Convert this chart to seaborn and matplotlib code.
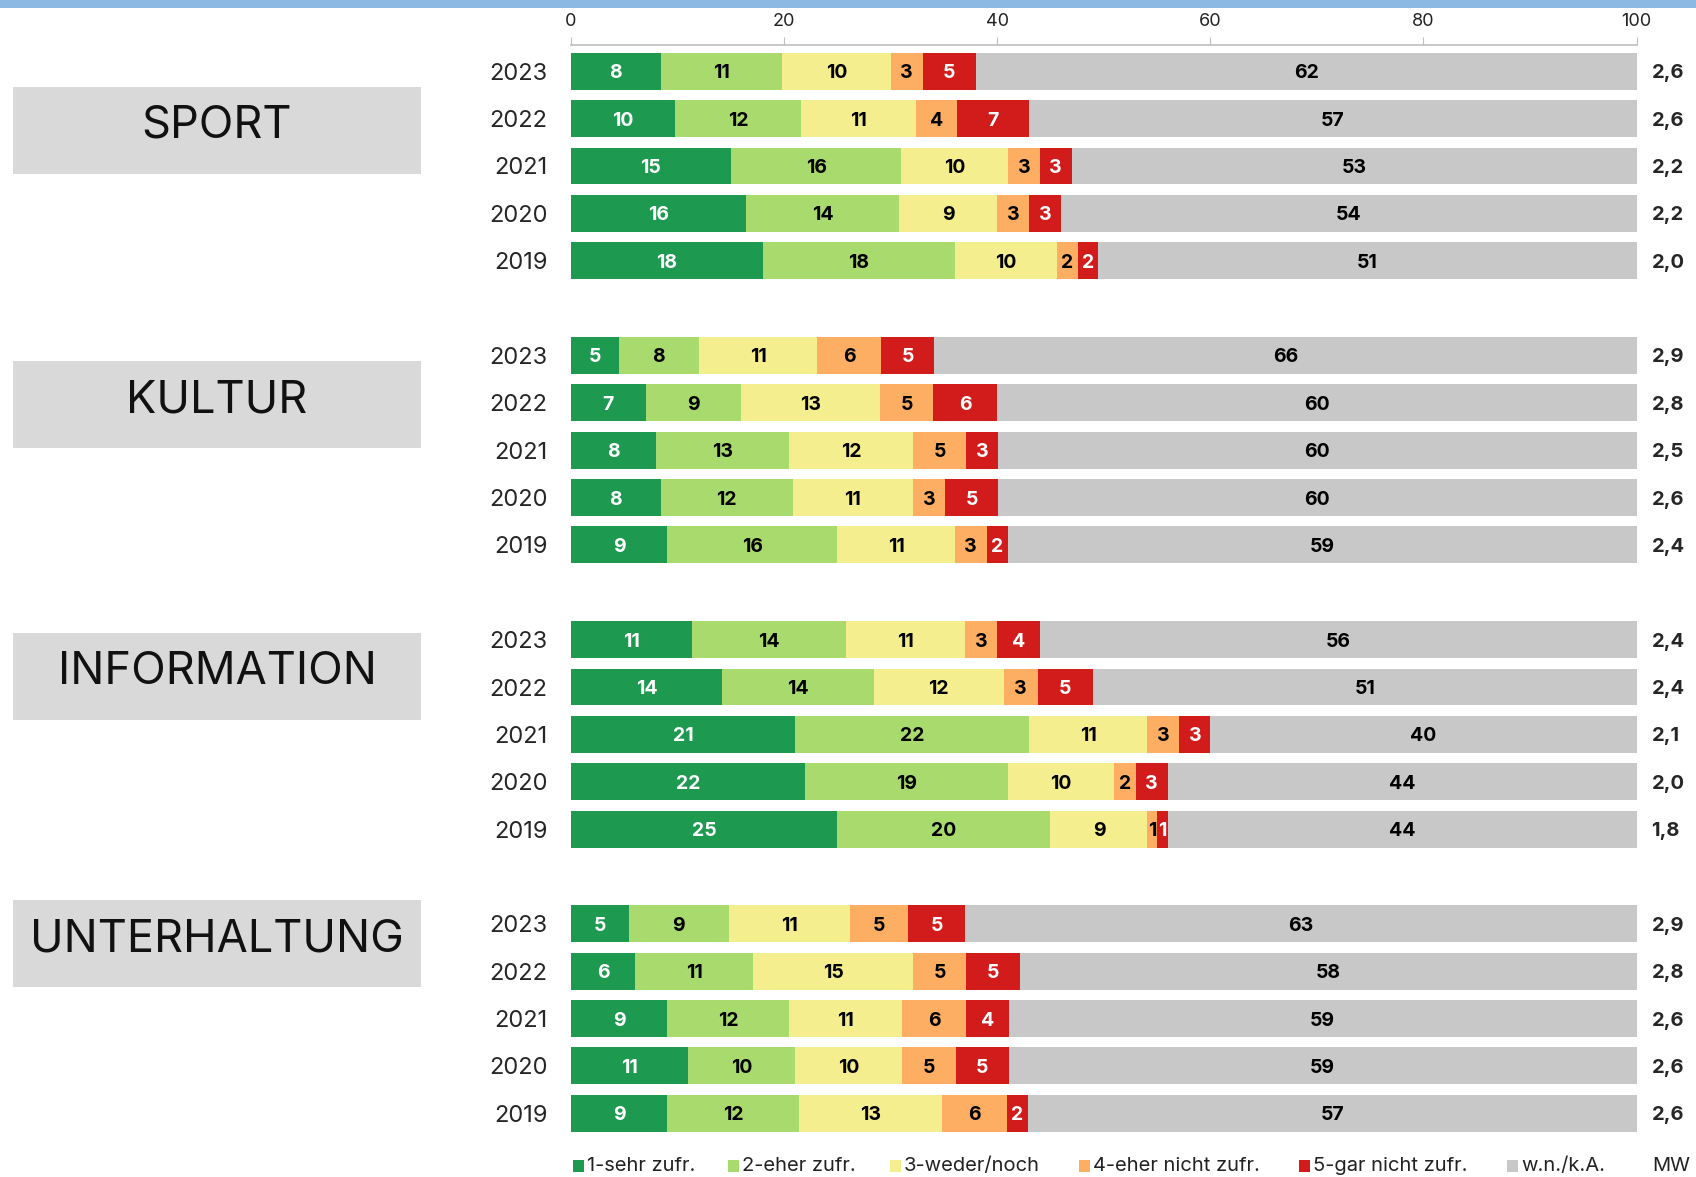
import numpy as np
import pandas as pd
import matplotlib.pyplot as plt
from matplotlib.patches import Rectangle
import seaborn as sns

# --- data ---
GROUPS = ["SPORT", "KULTUR", "INFORMATION", "UNTERHALTUNG"]
YEARS = ["2023", "2022", "2021", "2020", "2019"]
LEVELS = ["1-sehr zufr.", "2-eher zufr.", "3-weder/noch",
          "4-eher nicht zufr.", "5-gar nicht zufr.", "w.n./k.A."]
COLORS = ["#1d9a50", "#a8da6d", "#f5ee8e", "#fdae62", "#d21c1c", "#c8c8c8"]

# rows = years (2023 first), columns = levels 1..5 (shares in %, estimated
# from the bar lengths); w.n./k.A. separately
SPORT = [[8.4, 11.4, 10.2, 3.0, 5.0],
         [9.8, 11.8, 10.8, 3.8, 6.8],
         [15.0, 16.0, 10.0, 3.0, 3.0],
         [16.4, 14.4, 9.2, 3.0, 3.0],
         [18.0, 18.0, 9.6, 2.0, 1.9]]
KULTUR = [[4.5, 7.5, 11.1, 6.0, 5.0],
          [7.0, 9.0, 13.0, 5.0, 6.0],
          [8.0, 12.5, 11.6, 5.0, 3.0],
          [8.4, 12.4, 11.3, 3.0, 5.0],
          [9.0, 16.0, 11.0, 3.0, 2.0]]
INFORMATION = [[11.4, 14.4, 11.2, 3.0, 4.0],
               [14.2, 14.2, 12.2, 3.2, 5.2],
               [21.0, 22.0, 11.1, 3.0, 2.9],
               [22.0, 19.0, 10.0, 2.0, 3.0],
               [25.0, 20.0, 9.1, 0.9, 1.0]]
UNTERHALTUNG = [[5.4, 9.4, 11.4, 5.4, 5.4],
                [6.0, 11.1, 15.0, 5.0, 5.0],
                [9.0, 11.5, 10.6, 6.0, 4.0],
                [11.0, 10.0, 10.1, 5.0, 5.0],
                [9.0, 12.4, 13.4, 6.1, 2.0]]
WN_SPORT = [62, 57, 53, 54, 51]
WN_KULTUR = [66, 60, 60, 60, 59]
WN_INFORMATION = [56, 51, 40, 44, 44]
WN_UNTERHALTUNG = [63, 58, 59, 59, 57]
MW_SPORT = ["2,6", "2,6", "2,2", "2,2", "2,0"]
MW_KULTUR = ["2,9", "2,8", "2,5", "2,6", "2,4"]
MW_INFORMATION = ["2,4", "2,4", "2,1", "2,0", "1,8"]
MW_UNTERHALTUNG = ["2,9", "2,8", "2,6", "2,6", "2,6"]

TABLES = [SPORT, KULTUR, INFORMATION, UNTERHALTUNG]
WNS = [WN_SPORT, WN_KULTUR, WN_INFORMATION, WN_UNTERHALTUNG]
MWS = [MW_SPORT, MW_KULTUR, MW_INFORMATION, MW_UNTERHALTUNG]

W, H = 1696, 1177
FONT = ["Inter", "DejaVu Sans"]

sns.set_style("white")
plt.rcParams["font.family"] = FONT

# long table with start/end of each stacked segment
recs = []
order = []
for gi, (g, tab, wn) in enumerate(zip(GROUPS, TABLES, WNS)):
    if gi > 0:
        order.append(f"gap{gi}")
    for y, vals, w in zip(YEARS, tab, wn):
        key = f"{g} {y}"
        order.append(key)
        end = 0
        for lev, v in zip(LEVELS[:5], vals):
            recs.append({"row": key, "level": lev, "start": end,
                         "label": int(v + 0.5), "end": end + v})
            end += v
        # w.n./k.A. fills the rest of the bar
        recs.append({"row": key, "level": LEVELS[5], "start": end,
                     "label": w, "end": 100})
df = pd.DataFrame(recs)
pos = {k: i for i, k in enumerate(order)}

fig = plt.figure(figsize=(W / 100, H / 100), dpi=100)
ax = fig.add_axes([571 / W, 1 - 1137 / H, (1636.5 - 571) / W, (1137 - 45.4) / H])

# draw from the outermost segment inwards so the stacks overlap correctly
for lev, col in reversed(list(zip(LEVELS, COLORS))):
    sub = df[df["level"] == lev]
    sns.barplot(data=sub, x="end", y="row", order=order, orient="h",
                color=col, saturation=1, width=0.78, errorbar=None,
                linewidth=0, ax=ax)

for _, r in df.iterrows():
    if r["label"] <= 0:
        continue
    cx = (r["start"] + r["end"]) / 2
    tc = "white" if r["level"] in (LEVELS[0], LEVELS[4]) else "black"
    ax.text(cx, pos[r["row"]], str(r["label"]), ha="center",
            va="center_baseline", color=tc, fontsize=14, fontweight="bold")

for g, mw in zip(GROUPS, MWS):
    for y, m in zip(YEARS, mw):
        ax.text(101.4, pos[f"{g} {y}"], m, ha="left", va="center_baseline",
                fontsize=14.5, fontweight="bold", clip_on=False)

ax.set_xlim(0, 100)
ax.set_ylim(len(order) - 0.5, -0.546)
ax.xaxis.tick_top()
ax.set_xticks(range(0, 101, 20))
ax.tick_params(axis="x", length=6, color="#bfbfbf", labelsize=13, pad=5,
               labelcolor="#222222")
ax.set_yticks(range(len(order)))
ax.set_yticklabels([k.split()[-1] if not k.startswith("gap") else ""
                    for k in order], fontsize=17)
for t in ax.get_yticklabels():
    t.set_va("center_baseline")
ax.tick_params(axis="y", length=0, pad=17)
ax.set_xlabel("")
ax.set_ylabel("")
for s in ["left", "right", "bottom"]:
    ax.spines[s].set_visible(False)
ax.spines["top"].set_color("#bfbfbf")
ax.spines["top"].set_linewidth(1.2)

# top blue band
fig.add_artist(Rectangle((0, 1 - 8 / H), 1, 8 / H, transform=fig.transFigure,
                         color="#8cb9e4", lw=0))

# group boxes (pixel layout); the title sits a little above the box centre
box_tops = [86.5, 361, 633, 900]
for g, t in zip(GROUPS, box_tops):
    fig.add_artist(Rectangle((13 / W, 1 - (t + 87) / H), 408 / W, 87 / H,
                             transform=fig.transFigure, color="#d9d9d9", lw=0))
    fig.text(217 / W, 1 - (t + 35) / H, g, ha="center",
             va="center_baseline", fontsize=32.5, color="#111111")

# legend row
leg_x = [573, 728, 890, 1079, 1299, 1507]
ly = 1166
for lab, col, x in zip(LEVELS, COLORS, leg_x):
    fig.add_artist(Rectangle((x / W, 1 - (ly + 6) / H), 11 / W, 12 / H,
                             transform=fig.transFigure, color=col, lw=0))
    fig.text((x + 14) / W, 1 - ly / H, lab, ha="left", va="center",
             fontsize=14.5, color="#222222")
fig.text(1652 / W, 1 - ly / H, "MW", ha="left", va="center", fontsize=14.5,
         color="#222222")

fig.savefig("out.png", dpi=100)
